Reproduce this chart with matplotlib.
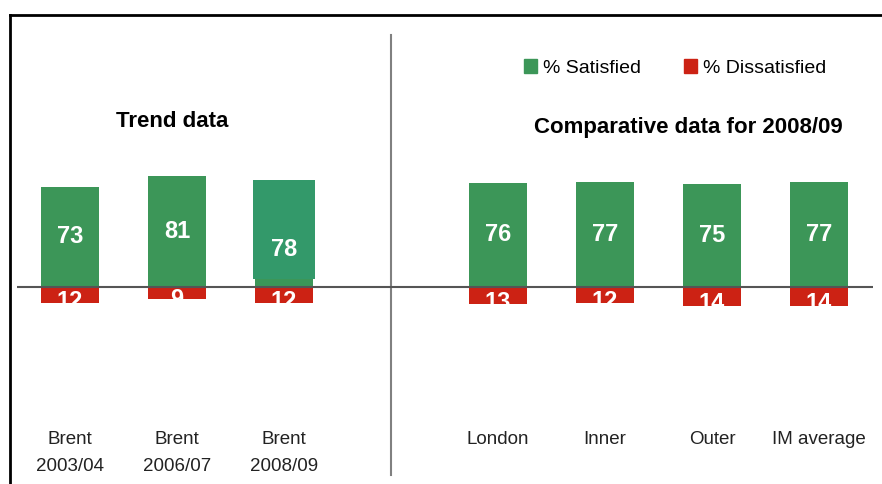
import matplotlib
matplotlib.use("Agg")
import matplotlib.pyplot as plt
import matplotlib.patches as mpatches
from matplotlib.lines import Line2D
import matplotlib.transforms as mtransforms

plt.rcParams['font.family'] = ['Liberation Sans', 'DejaVu Sans']

# donnees
trend_labels = ["Brent\n2003/04", "Brent\n2006/07", "Brent\n2008/09"]
trend_satisfied = [73, 81, 78]
trend_dissatisfied = [12, 9, 12]

comp_labels = ["London", "Inner", "Outer", "IM average"]
comp_satisfied = [76, 77, 75, 77]
comp_dissatisfied = [13, 12, 14, 14]

green = "#3c9658"
green_patch = "#33996a"
red = "#cc2214"

labels = trend_labels + comp_labels
satisfied = trend_satisfied + comp_satisfied
dissatisfied = trend_dissatisfied + comp_dissatisfied
# position 3 laissee vide pour le separateur
xpos = [0, 1, 2, 4, 5, 6, 7]

W, H = 882, 484
fig = plt.figure(figsize=(W / 100, H / 100), dpi=100)
ax = fig.add_axes([16.5 / W, 0, 856 / W, 1])
ax.set_xlim(-0.5, 7.5)
ax.set_ylim(-144.5, 210)
ax.axis("off")

bw = 0.54
gbars = ax.bar(xpos, satisfied, width=bw, color=green, zorder=2)
rbars = ax.bar(xpos, [-d for d in dissatisfied], width=bw, color=red, zorder=2)

# bloc colle par-dessus la barre 2008/09
k = 2
ax.bar(xpos[k], satisfied[k] - 6, bottom=6, width=bw + 0.04, color=green_patch, zorder=3)

for i, (x, s, d) in enumerate(zip(xpos, satisfied, dissatisfied)):
    ys = s / 2
    if i == 2:
        ys = s / 2 - 12
    ax.text(x, ys, str(s), ha="center", va="center", color="white",
            fontsize=17, fontweight="bold", zorder=4)
    t = ax.text(x, -d / 2 - 5, str(d), ha="center", va="center", color="white",
                fontsize=17, fontweight="bold", zorder=4)
    t.set_clip_path(rbars[i])

ax.axhline(0, color="#555555", lw=1.5, zorder=5)
ax.axvline(3, ymin=1 - 475 / H, ymax=1 - 35 / H, color="#808080", lw=1.5, zorder=1)

trans = mtransforms.blended_transform_factory(ax.transData, ax.transAxes)
for x, lab in zip(xpos, labels):
    ax.text(x, 1 - 431 / H, lab, transform=trans, ha="center", va="top",
            fontsize=13.5, linespacing=1.75, color="#222222")

fig.text(172 / W, 1 - 122 / H, "Trend data", ha="center", va="center",
         fontsize=16, fontweight="bold")
fig.text(688 / W, 1 - 127 / H, "Comparative data for 2008/09", ha="center", va="center",
         fontsize=16, fontweight="bold")

handles = [mpatches.Patch(color=green), mpatches.Patch(color=red)]
fig.legend(handles, ["% Satisfied", "% Dissatisfied"], loc="center",
           bbox_to_anchor=(675 / W, 1 - 68 / H), ncol=2, frameon=False,
           handlelength=0.7, handleheight=0.7, handletextpad=0.3,
           columnspacing=2.2, fontsize=14)

# cadre
fx = 10 / W
fy = 1 - 15 / H
fig.add_artist(Line2D([fx, fx], [0, fy], color="black", lw=2))
fig.add_artist(Line2D([fx, 1], [fy, fy], color="black", lw=2))

fig.savefig("out.png", dpi=100)
